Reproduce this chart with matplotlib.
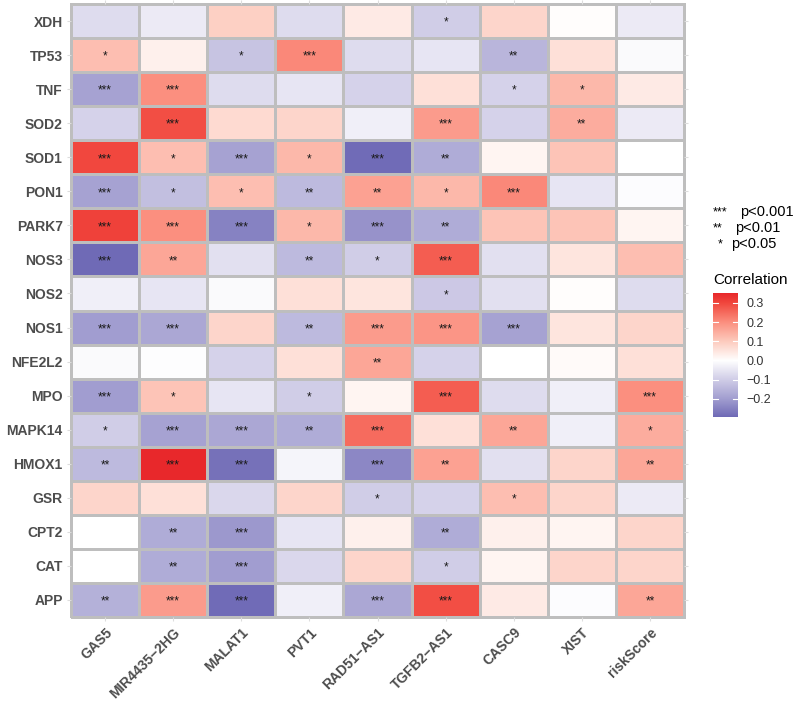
import numpy as np
import matplotlib
matplotlib.use("Agg")
import matplotlib.pyplot as plt
from matplotlib.colors import LinearSegmentedColormap, Normalize

rows = ["XDH", "TP53", "TNF", "SOD2", "SOD1", "PON1", "PARK7", "NOS3", "NOS2",
        "NOS1", "NFE2L2", "MPO", "MAPK14", "HMOX1", "GSR", "CPT2", "CAT", "APP"]
cols = ["GAS5", "MIR4435\u22122HG", "MALAT1", "PVT1", "RAD51\u2212AS1",
        "TGFB2\u2212AS1", "CASC9", "XIST", "riskScore"]

corr = [
    [-0.07, -0.04, 0.09, -0.07, 0.04, -0.10, 0.08, 0.005, -0.04],   # XDH
    [0.12, 0.03, -0.12, 0.21, -0.07, -0.05, -0.15, 0.06, -0.01],    # TP53
    [-0.19, 0.20, -0.07, -0.05, -0.09, 0.06, -0.09, 0.13, 0.04],    # TNF
    [-0.09, 0.29, 0.07, 0.08, -0.03, 0.18, -0.09, 0.15, -0.04],     # SOD2
    [0.30, 0.12, -0.19, 0.13, -0.29, -0.17, 0.02, 0.11, 0.0],       # SOD1
    [-0.19, -0.13, 0.12, -0.14, 0.17, 0.13, 0.21, -0.05, -0.005],   # PON1
    [0.31, 0.20, -0.25, 0.13, -0.22, -0.17, 0.11, 0.11, 0.02],      # PARK7
    [-0.30, 0.16, -0.06, -0.14, -0.10, 0.27, -0.06, 0.05, 0.12],    # NOS3
    [-0.03, -0.05, -0.01, 0.06, 0.05, -0.11, -0.06, 0.005, -0.07],  # NOS2
    [-0.20, -0.18, 0.08, -0.14, 0.18, 0.19, -0.19, 0.05, 0.08],     # NOS1
    [-0.01, -0.003, -0.09, 0.06, 0.16, -0.09, 0.0, 0.01, 0.06],     # NFE2L2
    [-0.20, 0.11, -0.05, -0.10, 0.02, 0.27, -0.07, -0.03, 0.20],    # MPO
    [-0.10, -0.19, -0.18, -0.17, 0.25, 0.06, 0.16, -0.03, 0.15],    # MAPK14
    [-0.14, 0.35, -0.28, -0.02, -0.24, 0.17, -0.06, 0.08, 0.16],    # HMOX1
    [0.08, 0.06, -0.08, 0.08, -0.10, -0.09, 0.12, 0.08, -0.04],     # GSR
    [0.0, -0.17, -0.21, -0.05, 0.03, -0.17, 0.03, 0.02, 0.08],      # CPT2
    [0.0, -0.17, -0.20, -0.08, 0.08, -0.10, 0.02, 0.08, 0.08],      # CAT
    [-0.16, 0.18, -0.29, -0.03, -0.18, 0.29, 0.04, -0.005, 0.16],   # APP
]

stars = [
    ["", "", "", "", "", "*", "", "", ""],
    ["*", "", "*", "***", "", "", "**", "", ""],
    ["***", "***", "", "", "", "", "*", "*", ""],
    ["", "***", "", "", "", "***", "", "**", ""],
    ["***", "*", "***", "*", "***", "**", "", "", ""],
    ["***", "*", "*", "**", "**", "*", "***", "", ""],
    ["***", "***", "***", "*", "***", "**", "", "", ""],
    ["***", "**", "", "**", "*", "***", "", "", ""],
    ["", "", "", "", "", "*", "", "", ""],
    ["***", "***", "", "**", "***", "***", "***", "", ""],
    ["", "", "", "", "**", "", "", "", ""],
    ["***", "*", "", "*", "", "***", "", "", "***"],
    ["*", "***", "***", "**", "***", "", "**", "", "*"],
    ["**", "***", "***", "", "***", "**", "", "", "**"],
    ["", "", "", "", "*", "", "*", "", ""],
    ["", "**", "***", "", "", "**", "", "", ""],
    ["", "**", "***", "", "", "*", "", "", ""],
    ["**", "***", "***", "", "***", "***", "", "", "**"],
]

cbar_ticks = [-0.2, -0.1, 0.0, 0.1, 0.2, 0.3]

vmin, vmax = -0.295, 0.352
stops = [(-0.295, "#6F6AB6"), (-0.2, "#A29ED0"), (-0.1, "#D0CDE7"), (0.0, "#FFFFFF"),
         (0.1, "#FDCBBE"), (0.2, "#FB8F7F"), (0.3, "#F1483E"), (0.352, "#E8282B")]
cmap = LinearSegmentedColormap.from_list(
    "corr", [((v - vmin) / (vmax - vmin), c) for v, c in stops])
norm = Normalize(vmin=vmin, vmax=vmax)

W, H = 796, 702
fig = plt.figure(figsize=(W / 100, H / 100), dpi=100)
ax = fig.add_axes([71 / W, 1 - 617 / H, (684 - 71) / W, (617 - 4) / H])

data = np.array(corr)
nr, nc = data.shape
mesh = ax.pcolormesh(np.arange(nc + 1), np.arange(nr + 1), data[::-1], cmap=cmap, norm=norm,
                     edgecolors="#BEBEBE", linewidth=2.0)
mesh.set_clip_on(False)
for i in range(nr):
    for j in range(nc):
        s = stars[i][j]
        if s:
            ax.text(j + 0.5, nr - 1 - i + 0.45, s, ha="center", va="center",
                    fontsize=8.5, color="#1A1A1A", family="Liberation Sans")

ax.set_xlim(0, nc)
ax.set_ylim(0, nr)
ax.set_xticks(np.arange(nc) + 0.5)
ax.set_yticks(np.arange(nr) + 0.5)
ax.set_yticklabels(rows[::-1], fontsize=10, fontweight="bold", color="#4D4D4D",
                   family="Liberation Sans")
ax.set_xticklabels(cols, fontsize=10, fontweight="bold", color="#4D4D4D",
                   family="Liberation Sans", rotation=45, ha="right", va="top",
                   rotation_mode="anchor")
ax.tick_params(axis="both", length=3, width=0.8, color="#DDDDDD", pad=3,
               top=True, right=True)
for sp in ax.spines.values():
    sp.set_visible(False)

# star legend
fnt = "Liberation Sans"
fig.text(713 / W, 1 - 212 / H, "***", fontsize=9, ha="left", va="center", family=fnt)
fig.text(740 / W, 1 - 212 / H, "p<0.001", fontsize=10.5, ha="left", va="center", family=fnt)
fig.text(713 / W, 1 - 228 / H, "**", fontsize=9, ha="left", va="center", family=fnt)
fig.text(735 / W, 1 - 228 / H, "p<0.01", fontsize=10.5, ha="left", va="center", family=fnt)
fig.text(718 / W, 1 - 244 / H, "*", fontsize=9, ha="left", va="center", family=fnt)
fig.text(731 / W, 1 - 244 / H, "p<0.05", fontsize=10.5, ha="left", va="center", family=fnt)

fig.text(713 / W, 1 - 280 / H, "Correlation", fontsize=11, ha="left", va="center", family=fnt)

# colorbar
cax = fig.add_axes([713 / W, 1 - 417 / H, 25 / W, (417 - 293) / H])
grad = np.linspace(vmin, vmax, 256).reshape(-1, 1)
cax.imshow(grad, aspect="auto", origin="lower", cmap=cmap, norm=norm,
           extent=[0, 1, vmin, vmax])
cax.set_xlim(0, 1)
cax.set_ylim(vmin, vmax)
cax.set_xticks([])
for t in cbar_ticks:
    cax.plot([0, 0.2], [t, t], color="white", lw=0.8)
    cax.plot([0.8, 1], [t, t], color="white", lw=0.8)
cax.yaxis.tick_right()
cax.set_yticks(cbar_ticks)
cax.set_yticklabels([f"{t:.1f}".replace("-", "\u2212") for t in cbar_ticks],
                    fontsize=9, color="#333333", family=fnt)
cax.tick_params(axis="y", length=0, pad=6)
for sp in cax.spines.values():
    sp.set_visible(False)

fig.savefig("out.png", dpi=100, facecolor="white")
